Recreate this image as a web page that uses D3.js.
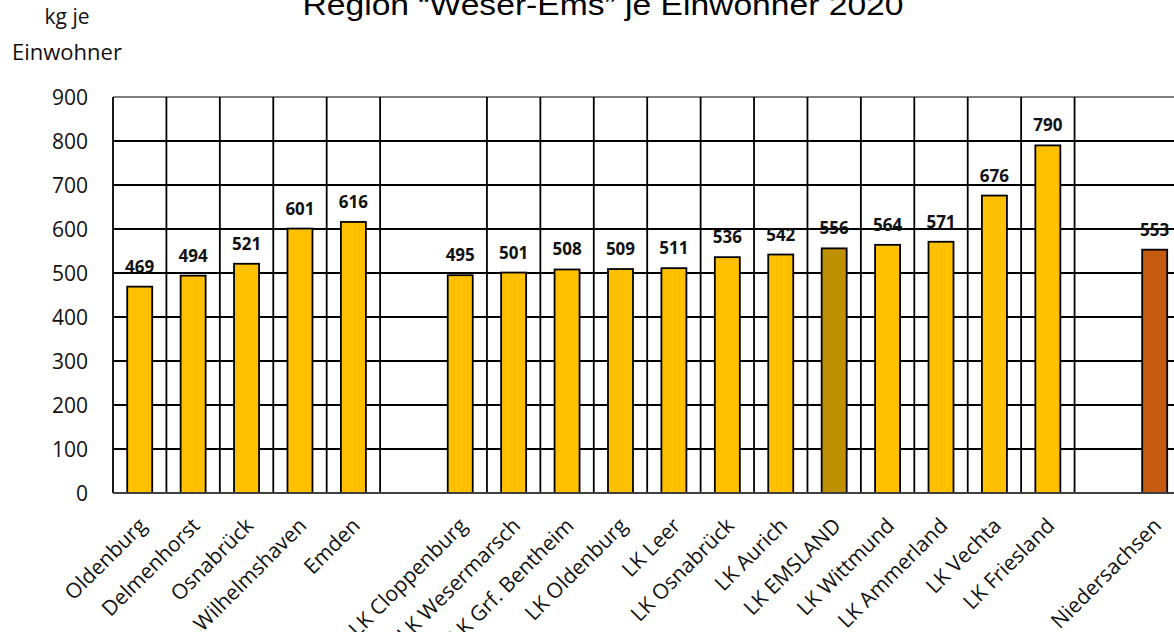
<!DOCTYPE html>
<html>
<head>
<meta charset="utf-8">
<script src="https://cdn.jsdelivr.net/npm/d3@7"></script>
<style>
  body { margin: 0; background: #fff; }
  svg { display: block; }
</style>
</head>
<body>
<div id="chart"></div>
<script>
// Categories (empty names are the spacer columns)
var categories = ["Oldenburg", "Delmenhorst", "Osnabrück", "Wilhelmshaven", "Emden", "",
    "LK Cloppenburg", "LK Wesermarsch", "LK Grf. Bentheim", "LK Oldenburg", "LK Leer",
    "LK Osnabrück", "LK Aurich", "LK EMSLAND", "LK Wittmund", "LK Ammerland",
    "LK Vechta", "LK Friesland", "", "Niedersachsen"];
var values = [469, 494, 521, 601, 616, null,
    495, 501, 508, 509, 511, 536, 542, 556, 564, 571, 676, 790, null, 553];
var yTicks = [0, 100, 200, 300, 400, 500, 600, 700, 800, 900];

var width = 1174, height = 632;
var margin = { top: 97, left: 113, bottom: 139 };
var plotW = 20 * 53.42;
var font = "'Open Sans', Lato, sans-serif";

var svg = d3.select("#chart")
    .append("svg")
    .attr("width", width)
    .attr("height", height);

var x = d3.scaleBand()
    .domain(d3.range(categories.length))
    .range([margin.left, margin.left + plotW])
    .padding(0);

var y = d3.scaleLinear()
    .domain([0, 900])
    .range([height - margin.bottom, margin.top]);

// horizontal gridlines
svg.selectAll(".hgrid")
    .data(yTicks.slice(1))
    .enter()
    .append("line")
    .attr("x1", margin.left)
    .attr("x2", margin.left + plotW)
    .attr("y1", function (d) { return y(d); })
    .attr("y2", function (d) { return y(d); })
    .attr("stroke", function (d) { return d === 900 ? "#7f7f7f" : "#000"; })
    .attr("stroke-width", 1.8);

// vertical gridlines at category boundaries (none inside the spacer columns)
var vLines = d3.range(categories.length + 1).filter(function (i) {
    return i !== 6 && i !== 19;
});
svg.selectAll(".vgrid")
    .data(vLines)
    .enter()
    .append("line")
    .attr("x1", function (i) { return margin.left + i * x.bandwidth(); })
    .attr("x2", function (i) { return margin.left + i * x.bandwidth(); })
    .attr("y1", y(900))
    .attr("y2", y(0))
    .attr("stroke", "#000")
    .attr("stroke-width", 1.8);

// bars
var barW = 25;
function barColor(name) {
    if (name === "LK EMSLAND") return "#BF9000";
    if (name === "Niedersachsen") return "#C55A11";
    return "#FFC000";
}
var bars = categories.map(function (c, i) { return { name: c, value: values[i], i: i }; })
    .filter(function (d) { return d.value !== null; });

svg.selectAll(".bar")
    .data(bars)
    .enter()
    .append("rect")
    .attr("x", function (d) { return x(d.i) + x.bandwidth() / 2 - barW / 2; })
    .attr("y", function (d) { return y(d.value); })
    .attr("width", barW)
    .attr("height", function (d) { return y(0) - y(d.value); })
    .attr("fill", function (d) { return barColor(d.name); })
    .attr("stroke", "#000")
    .attr("stroke-width", 1.8);

// x axis baseline
svg.append("line")
    .attr("x1", margin.left)
    .attr("x2", margin.left + plotW)
    .attr("y1", y(0))
    .attr("y2", y(0))
    .attr("stroke", "#404040")
    .attr("stroke-width", 2.2);

// value labels
svg.selectAll(".vlabel")
    .data(bars)
    .enter()
    .append("text")
    .attr("x", function (d) { return x(d.i) + x.bandwidth() / 2; })
    .attr("y", function (d) { return y(d.value) - 14; })
    .attr("text-anchor", "middle")
    .style("font-family", font)
    .style("font-weight", "bold")
    .style("font-size", "17px")
    .style("fill", "#111")
    .text(function (d) { return d.value; });

// y tick labels
svg.selectAll(".ytick")
    .data(yTicks)
    .enter()
    .append("text")
    .attr("x", 88)
    .attr("y", function (d) { return y(d); })
    .attr("dy", "0.36em")
    .attr("text-anchor", "end")
    .style("font-family", font)
    .style("font-size", "21px")
    .style("fill", "#111")
    .text(function (d) { return d; });

// x category labels, rotated (long ones run off the bottom like in the original)
svg.selectAll(".xlabel")
    .data(categories.map(function (c, i) { return { name: c, i: i }; }).filter(function (d) { return d.name; }))
    .enter()
    .append("text")
    .attr("transform", function (d) {
        return "translate(" + (x(d.i) + x.bandwidth() / 2 + 8) + "," + (y(0) + 34) + ") rotate(-45)";
    })
    .attr("text-anchor", "end")
    .style("font-family", font)
    .style("font-size", "21px")
    .style("fill", "#111")
    .text(function (d) { return d.name; });

// y axis title
svg.append("text")
    .attr("x", 67)
    .attr("y", 24)
    .attr("text-anchor", "middle")
    .style("font-family", font)
    .style("font-size", "21px")
    .style("fill", "#111")
    .text("kg je");
svg.append("text")
    .attr("x", 67)
    .attr("y", 60)
    .attr("text-anchor", "middle")
    .style("font-family", font)
    .style("font-size", "22px")
    .style("fill", "#111")
    .text("Einwohner");

// chart title (top is cut off in the picture)
svg.append("text")
    .attr("x", 603)
    .attr("y", 15)
    .attr("text-anchor", "middle")
    .attr("textLength", 601)
    .attr("lengthAdjust", "spacingAndGlyphs")
    .style("font-family", "'Liberation Sans', Arial, sans-serif")
    .style("font-size", "29px")
    .style("fill", "#000")
    .text("Region \u201CWeser-Ems\u201D je Einwohner 2020");
</script>
</body>
</html>
